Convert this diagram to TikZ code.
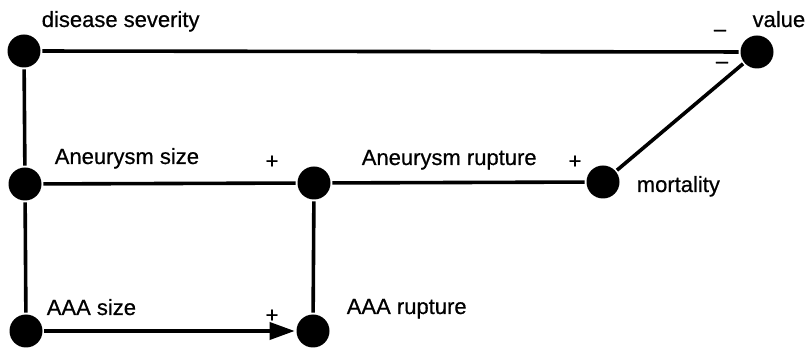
\documentclass[tikz,border=0pt]{standalone}
\usepackage{fontspec}
\setmainfont{Liberation Sans}[FakeBold=0.6]
\usepackage{tikz}
\usetikzlibrary{arrows.meta}

\begin{document}
\begin{tikzpicture}[x=1pt, y=-1pt, line width=3.6pt,
        font=\fontsize{22pt}{26pt}\selectfont,
        dot/.style={circle, fill=black, minimum size=33pt, inner sep=0pt},
        lbl/.style={anchor=base west, inner sep=0pt},
        sign/.style={inner sep=0pt}]
        \useasboundingbox (0,0) rectangle (809,352);
        % chance and value nodes
        \node[dot] (sev) at (24,51) {};
        \node[dot] (val) at (757,52) {};
        \node[dot] (asize) at (25,184) {};
        \node[dot] (arupt) at (314,183) {};
        \node[dot] (mort) at (603,182) {};
        \node[dot] (aaasize) at (26,331) {};
        \node[dot] (aaarupt) at (313,331) {};
        % labels
        \node[lbl] (sevlbl) at (40,27) {disease severity};
        \node[lbl, anchor=base east] (vallbl) at (807,27) {value};
        \node[lbl] (asizelbl) at (53,164) {Aneurysm size};
        \node[lbl] (aruptlbl) at (360,165) {Aneurysm rupture};
        \node[lbl] (mortlbl) at (635,192) {mortality};
        \node[lbl] (aaasizelbl) at (45,315) {AAA size};
        \node[lbl] (aaaruptlbl) at (345,314) {AAA rupture};
        % signs on the links
        \node[sign] (s1) at (720,33) {--};
        \node[sign] (s2) at (722,65) {--};
        \node[sign] (s3) at (272,162) {+};
        \node[sign] (s4) at (575,162) {+};
        \node[sign] (s5) at (272,316) {+};
        % links
        \draw (sev) -- (val);
        \draw (sev) -- (asize);
        \draw (asize) -- (aaasize);
        \draw (asize) -- (arupt);
        \draw (arupt) -- (mort);
        \draw (mort) -- (val);
        \draw (arupt) -- (aaarupt);
        \draw[-{Triangle[length=25pt, width=17pt]}] (aaasize) -- (aaarupt);
      \end{tikzpicture}
\end{document}
